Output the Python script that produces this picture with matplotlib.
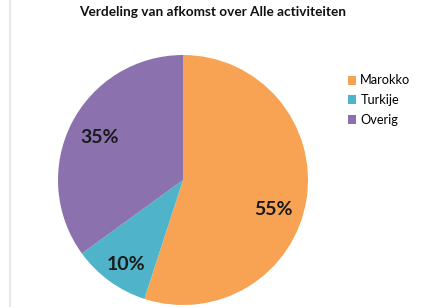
import numpy as np
import matplotlib
matplotlib.use("Agg")
import matplotlib.pyplot as plt
from matplotlib.lines import Line2D

labels = ["Marokko", "Turkije", "Overig"]
shares = [55, 10, 35]
colors = ["#F8A254", "#4FB3CA", "#8B72AE"]

plt.rcParams["font.family"] = ["Lato", "DejaVu Sans"]

fig = plt.figure(figsize=(4.26, 3.07), dpi=100)
fig.patch.set_facecolor("white")

# pie area: ~250 px diameter, centre at (183, 180) px from top-left
ax = fig.add_axes([58 / 426, 2 / 307, 250 / 426, 250 / 307])
wedges, texts, autotexts = ax.pie(
    shares, colors=colors, startangle=90, counterclock=False,
    autopct="%1.0f%%", pctdistance=0.75,
    wedgeprops=dict(linewidth=0),
    textprops=dict(fontsize=14, fontweight="bold", color="#1a1a1a"))
ax.set_xlim(-1, 1); ax.set_ylim(-1, 1)
ax.set_aspect("equal")

# Excel puts the big slice's label a bit lower than its bisector
ang = np.deg2rad(-18)
autotexts[0].set_position((0.76 * np.cos(ang), 0.76 * np.sin(ang)))
ang = np.deg2rad(-124)
autotexts[1].set_position((0.82 * np.cos(ang), 0.82 * np.sin(ang)))

fig.text(0.5, 0.962, "Verdeling van afkomst over Alle activiteiten",
         ha="center", va="center", fontsize=9.8, fontweight="bold", color="#111111")

leg = fig.legend(wedges, labels, loc="upper left",
                 bbox_to_anchor=(336 / 426, 1 - 63 / 307),
                 frameon=False, fontsize=9.2, handlelength=0.7, handleheight=0.7,
                 handletextpad=0.3, labelspacing=0.6)

# faint border on the left
fig.add_artist(Line2D([9.5 / 426, 9.5 / 426], [0, 1], color="#e2e2e2", linewidth=1.2))

fig.savefig("out.png", dpi=100, facecolor="white")
